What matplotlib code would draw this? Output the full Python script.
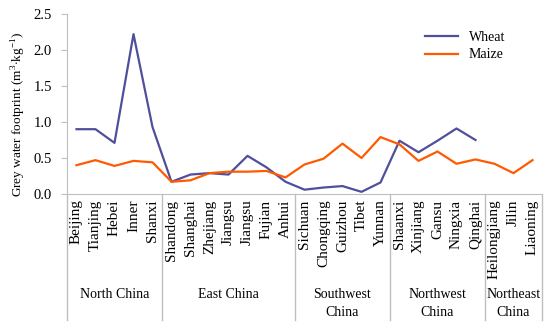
import numpy as np
import matplotlib
matplotlib.use('Agg')
import matplotlib.pyplot as plt

provinces = ['Beijing', 'Tianjing', 'Hebei', 'Inner', 'Shanxi',
             'Shandong', 'Shanghai', 'Zhejiang', 'Jiangsu', 'Jiangsu', 'Fujian', 'Anhui',
             'Sichuan', 'Chongqing', 'Guizhou', 'Tibet', 'Yunnan',
             'Shaanxi', 'Xinjiang', 'Gansu', 'Ningxia', 'Qinghai',
             'Heilongjiang', 'Jilin', 'Liaoning']
regions = ['North China', 'East China', 'Southwest\nChina', 'Northwest\nChina', 'Northeast\nChina']
region_sizes = [5, 7, 5, 5, 3]

wheat = [0.90, 0.90, 0.71, 2.22, 0.93,
         0.17, 0.27, 0.29, 0.27, 0.53, 0.37, 0.17,
         0.06, 0.09, 0.11, 0.03, 0.16,
         0.74, 0.58, 0.74, 0.91, 0.75,
         np.nan, np.nan, np.nan]
maize = [0.40, 0.47, 0.39, 0.46, 0.44,
         0.17, 0.19, 0.29, 0.31, 0.31, 0.32, 0.23,
         0.41, 0.49, 0.70, 0.50, 0.79,
         0.69, 0.46, 0.59, 0.42, 0.48,
         0.42, 0.29, 0.47]

plt.rcParams['font.family'] = 'Liberation Serif'
plt.rcParams['mathtext.fontset'] = 'custom'
plt.rcParams['mathtext.rm'] = 'Liberation Serif'
plt.rcParams['font.size'] = 10
grey = '#BFBFBF'

fig = plt.figure(figsize=(5.5, 3.31), dpi=100)
ax = fig.add_axes([67/550, 1-194/331, 475/550, 180/331])

x = np.arange(len(provinces))
ax.plot(x, wheat, color='#4F4F9B', lw=1.6, label='Wheat')
ax.plot(x, maize, color='#FF5A00', lw=1.6, label='Maize')

ax.set_xlim(-0.5, len(provinces) - 0.5)
ax.set_ylim(0, 2.5)
ax.set_yticks([0.0, 0.5, 1.0, 1.5, 2.0, 2.5])
ax.set_yticklabels(['0.0', '0.5', '1.0', '1.5', '2.0', '2.5'], fontsize=10.5)
ax.set_xticks(x)
ax.set_xticklabels(provinces, rotation=90, va='top', ha='center', fontsize=11)
ax.tick_params(axis='x', length=0, pad=4)
ax.tick_params(axis='y', direction='out', length=4, color=grey, pad=7)

for s in ['top', 'right']:
    ax.spines[s].set_visible(False)
for s in ['left', 'bottom']:
    ax.spines[s].set_color(grey)

# group separators and labels
tr = ax.get_xaxis_transform()
bounds = np.concatenate([[0], np.cumsum(region_sizes)]) - 0.5
for b in bounds:
    ax.plot([b, b], [0, -0.7], color=grey, lw=1, transform=tr, clip_on=False)
for i, name in enumerate(regions):
    mid = (bounds[i] + bounds[i+1]) / 2
    ax.text(mid, -0.525, name, transform=tr, ha='center', va='top', linespacing=1.5)

fig.text(19/550, 1-114/331, 'Grey water footprint (m$^{3}$$\\cdot$kg$^{-1}$)',
         rotation=90, ha='center', va='center', fontsize=9.5)

ax.legend(loc='upper left', bbox_to_anchor=(419/550, 1-25/331), bbox_transform=fig.transFigure,
          frameon=False, handlelength=2.4, labelspacing=0.35, borderaxespad=0)

fig.savefig('out.png', dpi=100)
